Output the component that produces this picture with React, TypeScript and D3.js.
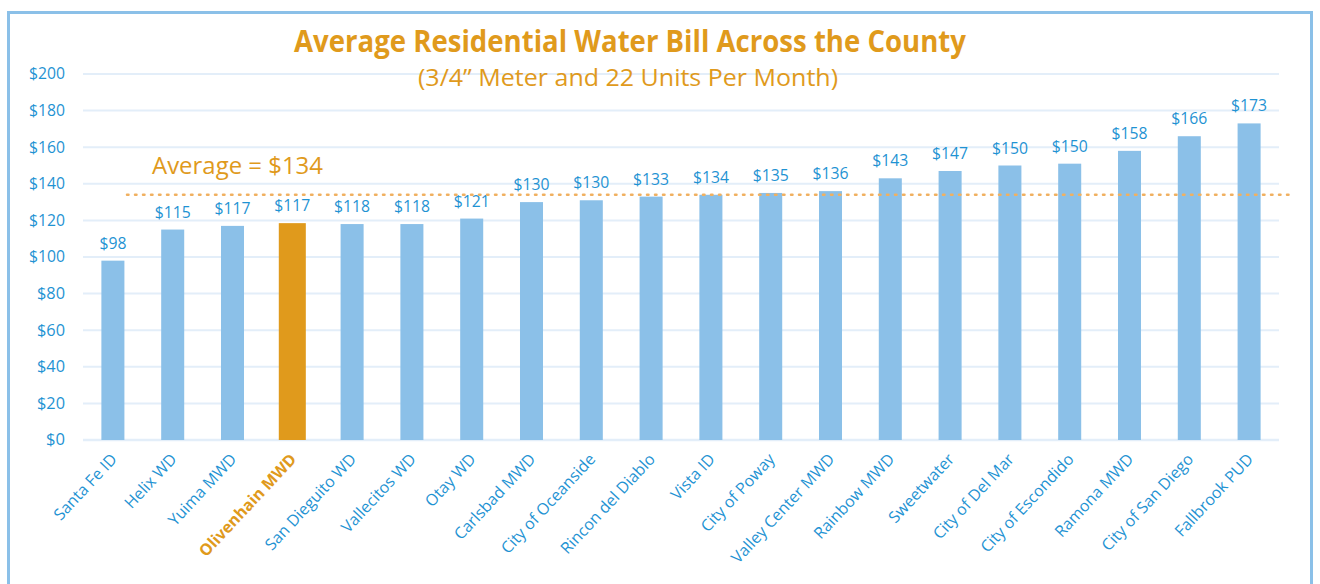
import React from 'react';
import * as d3 from 'd3';

// water districts, ordered by bill
const districts = [
  'Santa Fe ID', 'Helix WD', 'Yuima MWD', 'Olivenhain MWD', 'San Dieguito WD',
  'Vallecitos WD', 'Otay WD', 'Carlsbad MWD', 'City of Oceanside', 'Rincon del Diablo',
  'Vista ID', 'City of Poway', 'Valley Center MWD', 'Rainbow MWD', 'Sweetwater',
  'City of Del Mar', 'City of Escondido', 'Ramona MWD', 'City of San Diego', 'Fallbrook PUD',
];
// bar heights as drawn
const bills = [98, 115, 117, 118.5, 118, 118, 121, 130, 131, 133, 134, 135, 136, 143, 147, 150, 151, 158, 166, 173];
// labels printed above the bars
const billLabels = ['$98', '$115', '$117', '$117', '$118', '$118', '$121', '$130', '$130', '$133', '$134', '$135', '$136', '$143', '$147', '$150', '$150', '$158', '$166', '$173'];
const yTicks = [0, 20, 40, 60, 80, 100, 120, 140, 160, 180, 200];
const average = 134;
const highlight = 'Olivenhain MWD';

const W = 1320, H = 584;
const BLUE = '#8bc0e8';
const TEXT_BLUE = '#1f93d3';
const ORANGE = '#e09a1c';
const FONT = '"Open Sans", "Noto Sans", sans-serif';

export default function App() {
  const margin = { top: 74, right: 41, bottom: 144, left: 83 };

  // band scale for districts: outer padding half of inner so the step is range / n
  const x = d3.scaleBand<string>()
    .domain(districts)
    .range([margin.left, W - margin.right])
    .paddingInner(0.615)
    .paddingOuter(0.3075);

  // linear scale for dollars
  const y = d3.scaleLinear()
    .domain([0, 200])
    .range([H - margin.bottom, margin.top]);

  const center = (d: string) => (x(d) ?? 0) + x.bandwidth() / 2;

  return (
    <svg width={W} height={H} style={{ position: 'absolute', left: 0, top: 0, background: '#fff' }} fontFamily={FONT}>
      {/* frame */}
      <rect x={8.5} y={12.5} width={1303} height={600} fill="none" stroke={BLUE} strokeWidth={3} />

      {/* grid lines + y labels */}
      {yTicks.map(t => (
        <g key={t}>
          <line x1={margin.left} x2={W - margin.right} y1={y(t)} y2={y(t)} stroke="#e3eef9" strokeWidth={t === 0 ? 2.5 : 2} />
          <text x={65} y={y(t)} dy="0.35em" textAnchor="end" fontSize={15.5} fill={TEXT_BLUE}
            textLength={t >= 100 ? 36 : t > 0 ? 28 : 19} lengthAdjust="spacingAndGlyphs">${t}</text>
        </g>
      ))}

      {/* title */}
      <text x={630} y={52} textAnchor="middle" fontSize={30} fontWeight="bold" fill={ORANGE}
        textLength={672} lengthAdjust="spacingAndGlyphs">Average Residential Water Bill Across the County</text>
      <text x={628} y={86} textAnchor="middle" fontSize={24} fill={ORANGE}
        textLength={420} lengthAdjust="spacingAndGlyphs">(3/4” Meter and 22 Units Per Month)</text>

      {/* bars */}
      {districts.map((d, i) => {
        const hl = d === highlight;
        const w = hl ? x.bandwidth() + 4 : x.bandwidth();
        return (
          <rect key={d} x={center(d) - w / 2} y={y(bills[i])} width={w} height={y(0) - y(bills[i])}
            fill={hl ? ORANGE : BLUE} />
        );
      })}

      {/* value labels */}
      {districts.map((d, i) => (
        <text key={d + '-v'} x={center(d)} y={y(bills[i]) - 12} textAnchor="middle" fontSize={15.5} fill={TEXT_BLUE}
          textLength={billLabels[i].length > 3 ? 36 : 27} lengthAdjust="spacingAndGlyphs">
          {billLabels[i]}
        </text>
      ))}

      {/* average line */}
      <line x1={127} x2={1291} y1={y(average)} y2={y(average)} stroke="#f0b060" strokeWidth={2.5}
        strokeDasharray="1.5 6.5" strokeLinecap="round" />
      <text x={152} y={174} fontSize={23} fill={ORANGE} textLength={171} lengthAdjust="spacingAndGlyphs">Average = ${average}</text>

      {/* x labels */}
      {districts.map(d => {
        const hl = d === highlight;
        return (
          <text key={d + '-x'} transform={`translate(${center(d) + 5}, ${y(0) + 20}) rotate(-47)`}
            textAnchor="end" fontSize={16} fontWeight={hl ? 'bold' : 'normal'} fill={hl ? ORANGE : TEXT_BLUE}>
            {d}
          </text>
        );
      })}
    </svg>
  );
}
